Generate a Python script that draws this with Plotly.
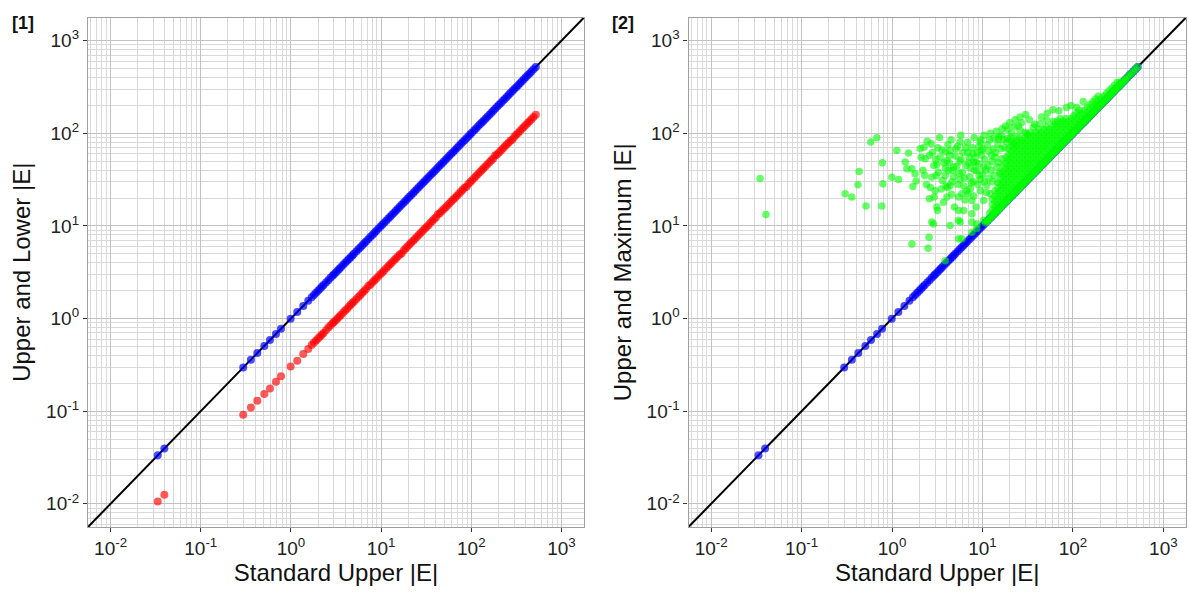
import plotly.graph_objects as go

# ---------------- data ----------------
# Standard Upper |E| (x) with Upper |E| (blue) and Lower |E| (red)
std_upper = [0.0334, 0.0395, 0.296, 0.360, 0.424, 0.507, 0.586, 0.683, 0.776, 0.993, 1.175, 1.37, 1.556, 1.70,
             1.8, 1.9, 2.0, 2.1, 2.2, 2.3, 2.45, 2.6, 2.75, 2.9, 3.0, 3.15, 3.3, 3.45, 3.6, 3.8, 4.0, 4.2, 4.4, 4.6,
             4.8, 5.0, 5.3, 5.6, 5.9, 6.2, 6.5, 6.8, 7.2, 7.6, 8.0, 8.4, 8.8, 9.3, 9.8, 10.3, 10.8, 11.4, 12.0, 12.6,
             13.2, 13.9, 14.6, 15.3, 16.1, 16.9, 17.8, 18.7, 19.6, 20.6, 21.6, 22.7, 23.8, 25.0, 26.3, 27.6, 29.0,
             30.4, 31.9, 33.5, 35.2, 37.0, 38.8, 40.7, 42.7, 44.8, 47.0, 49.4, 51.8, 54.4, 57.1, 60.0, 63.0, 66.1,
             69.4, 72.9, 76.5, 80.3, 84.3, 88.5, 93.0, 97.6, 102, 108, 113, 119, 125, 131, 137, 144, 151, 159, 167,
             175, 184, 193, 203, 213, 224, 235, 247, 259, 272, 286, 300, 315, 331, 347, 365, 383, 402, 422, 443,
             465, 490, 520]
upper = [0.0334, 0.0395, 0.296, 0.360, 0.424, 0.507, 0.586, 0.683, 0.776, 0.993, 1.175, 1.37, 1.556, 1.70,
         1.8, 1.9, 2.0, 2.1, 2.2, 2.3, 2.45, 2.6, 2.75, 2.9, 3.0, 3.15, 3.3, 3.45, 3.6, 3.8, 4.0, 4.2, 4.4, 4.6,
         4.8, 5.0, 5.3, 5.6, 5.9, 6.2, 6.5, 6.8, 7.2, 7.6, 8.0, 8.4, 8.8, 9.3, 9.8, 10.3, 10.8, 11.4, 12.0, 12.6,
         13.2, 13.9, 14.6, 15.3, 16.1, 16.9, 17.8, 18.7, 19.6, 20.6, 21.6, 22.7, 23.8, 25.0, 26.3, 27.6, 29.0,
         30.4, 31.9, 33.5, 35.2, 37.0, 38.8, 40.7, 42.7, 44.8, 47.0, 49.4, 51.8, 54.4, 57.1, 60.0, 63.0, 66.1,
         69.4, 72.9, 76.5, 80.3, 84.3, 88.5, 93.0, 97.6, 102, 108, 113, 119, 125, 131, 137, 144, 151, 159, 167,
         175, 184, 193, 203, 213, 224, 235, 247, 259, 272, 286, 300, 315, 331, 347, 365, 383, 402, 422, 443,
         465, 490, 520]
lower = [0.01057, 0.0125, 0.0917, 0.1098, 0.130, 0.153, 0.176, 0.208, 0.238, 0.303, 0.351, 0.415, 0.470, 0.519,
         0.55, 0.58, 0.61, 0.64, 0.67, 0.70, 0.75, 0.80, 0.84, 0.89, 0.92, 0.96, 1.01, 1.05, 1.10, 1.16, 1.22, 1.28,
         1.35, 1.41, 1.47, 1.53, 1.62, 1.71, 1.80, 1.90, 1.99, 2.08, 2.24, 2.32, 2.45, 2.57, 2.69, 2.84, 3.00, 3.15,
         3.30, 3.49, 3.67, 3.85, 4.04, 4.25, 4.46, 4.68, 4.92, 5.05, 5.44, 5.72, 5.99, 6.30, 6.61, 6.94, 7.28, 7.65,
         8.04, 8.44, 8.87, 9.30, 9.76, 10.2, 10.8, 11.3, 11.9, 12.4, 13.4, 13.7, 14.4, 15.1, 15.8, 16.6, 17.5, 18.3,
         19.3, 20.2, 21.2, 22.3, 23.4, 24.6, 25.8, 26.5, 28.4, 29.8, 31.2, 33.0, 34.6, 36.4, 38.2, 40.1, 41.9, 44.0,
         46.2, 48.6, 51.1, 53.5, 57.5, 59.0, 62.1, 65.1, 68.5, 71.9, 75.5, 79.2, 83.2, 85.9, 91.7, 96.3, 101, 106,
         112, 117, 123, 129, 135, 142, 150, 159]

# Maximum |E| (green): scattered points (x = Standard Upper, y = Maximum)
max_scatter_x = [0.0348, 0.0404, 0.303, 0.359, 0.420, 0.433, 0.516, 0.582, 0.679, 0.771, 0.780, 0.791, 0.995,
                 1.13, 1.18, 1.40, 1.46, 1.52, 1.66, 1.66, 1.70, 1.80, 1.85, 2.05, 2.26, 2.32, 2.50, 2.57, 2.59,
                 2.71, 2.75, 2.75, 2.87, 2.92, 3.08, 3.13, 3.13, 3.18, 3.87, 3.87, 3.87, 4.04, 4.04, 4.21, 4.39,
                 4.39, 4.39, 4.78, 5.29, 5.43, 5.43, 5.43, 5.43, 5.66, 5.66, 5.66, 5.92, 5.92, 6.2, 6.9, 7.31,
                 7.64, 7.64, 7.64, 7.64, 7.95, 8.67, 8.67, 8.67, 9.44, 9.44, 9.68, 10.3, 10.3, 10.3, 11.2, 12.2,
                 13.2, 14.4, 15.0, 16.4, 18.6, 22.0,
                 3.5, 3.9, 4.6, 5.0, 5.5, 6.2, 6.6, 6.9, 7.2, 8.0, 8.3, 8.9, 9.1, 10.0, 10.6, 11.0, 11.7, 12.4,
                 13.0, 13.8, 14.8, 15.5, 16.2, 17.5, 18.8, 21.0, 24.0, 26.0, 27.0, 29.5, 31.0, 33.0, 36.6, 38.0,
                 43.5, 45.0, 51.5, 52.0, 61.0, 60.0, 72.4, 70.0, 85.0, 95.0, 110, 130,
                 2.2, 2.4, 2.6, 2.9, 3.0, 3.2, 3.4, 3.6, 3.7, 4.1, 4.3, 4.5, 4.8, 4.9, 5.2, 5.8, 6.0, 6.4, 6.5,
                 7.0, 7.5, 7.8, 8.2, 8.5, 9.0, 9.5, 9.8, 10.5, 11.5, 12.0, 12.8, 13.5, 14.0, 15.0, 16.0, 17.0,
                 19.0, 20.5, 22.5, 25.0,
                 2.1, 2.3, 2.45, 2.65, 2.8, 3.05, 3.25, 3.35, 3.55, 3.75, 3.95, 4.15, 4.35, 4.55, 4.7, 5.1,
                 5.35, 5.6, 5.75, 6.05, 6.3, 6.7, 6.85, 7.1, 7.4, 7.7, 7.9, 8.1, 8.4, 8.8, 9.2, 9.6, 10.1,
                 10.4, 10.9, 11.3, 11.8, 12.2, 12.6, 13.3, 14.2, 15.2, 16.5, 18.0, 20.0, 23.0, 26.0, 30.0]
max_scatter_y = [32.6, 13.3, 22.3, 20.5, 27.9, 38.8, 16.4, 80.4, 89.3, 16.4, 48.2, 28.6, 33.6,
                 65.4, 31.8, 48.9, 41.5, 61.1, 41.5, 6.4, 26.7, 36.6, 30.5, 68.2, 70.5, 53.2, 5.75, 7.55, 19.7,
                 77.3, 33.6, 11.0, 10.5, 20.5, 35.1, 46.1, 16.0, 14.7, 62.7, 35.1, 4.2, 51.0, 20.5, 39.7, 65.4,
                 27.4, 10.1, 43.2, 72.0, 20.5, 11.5, 7.26, 14.7, 80.4, 31.8, 11.0, 22.3, 7.26, 14.7, 22.3, 25.2,
                 18.8, 13.5, 8.56, 11.0, 48.9, 39.7, 10.5, 9.4, 80.4, 31.8, 65.4, 43.2, 18.8, 11.5, 27.4, 22.3,
                 68.2, 43.2, 87.0, 53.2, 80.4, 77.3,
                 25, 42, 30, 57, 37, 27, 45, 62, 34, 21, 55, 28, 72, 36, 52, 23, 64, 40,
                 30, 55, 76, 38, 95, 70, 88, 100, 92, 108, 130, 102, 99, 140, 117, 125,
                 127, 150, 138, 165, 134, 180, 144, 175, 190, 200, 190, 220,
                 40, 28, 58, 45, 24, 70, 55, 31, 18, 26, 48, 85, 34, 16, 44, 52, 38, 19, 70,
                 48, 29, 60, 40, 16, 47, 24, 58, 30, 45, 85, 50, 35, 62, 48, 68, 85,
                 110, 90, 118, 120,
                 55, 35, 82, 26, 62, 52, 38, 90, 66, 48, 27, 75, 58, 22, 40, 68,
                 28, 50, 95, 62, 33, 24, 80, 55, 42, 70, 30, 90, 48, 62, 35, 85, 68,
                 95, 40, 75, 33, 100, 58, 88, 105, 92, 112, 120, 130, 140, 150, 160]

# Maximum |E| (green): dense cloud just above the diagonal, one column per Standard Upper value
cloud_x = [11.22, 12.02, 12.88, 13.80, 14.79, 15.85, 16.98, 18.20, 19.50, 20.89, 22.39, 23.99, 25.70, 27.54,
           29.51, 31.62, 33.88, 36.31, 38.90, 41.69, 44.67, 47.86, 51.29, 54.95, 58.88, 63.10, 67.61, 72.44,
           77.62, 83.18, 89.13, 95.50, 102.3, 109.6, 117.5, 125.9, 134.9, 144.5, 154.9, 166.0, 177.8, 190.5,
           204.2, 218.8, 234.4, 251.2, 269.2, 288.4, 309.0, 331.1, 354.8, 380.2]
cloud_y = [
    [11.22],
    [12.02, 13.80],
    [12.88, 14.79, 16.98, 19.50],
    [13.80, 15.85, 18.20, 20.89, 23.99],
    [14.79, 16.98, 19.50, 22.39, 25.70, 29.51],
    [15.85, 18.20, 20.89, 23.99, 27.54, 31.62, 36.31],
    [16.98, 19.50, 22.39, 25.70, 29.51, 33.88, 38.90, 44.67],
    [18.20, 20.89, 23.99, 27.54, 31.62, 36.31, 41.69, 47.86, 54.95],
    [19.50, 22.39, 25.70, 29.51, 33.88, 38.90, 44.67, 51.29, 58.88, 67.61],
    [20.89, 23.99, 27.54, 31.62, 36.31, 41.69, 47.86, 54.95, 63.10, 72.44, 83.18],
    [22.39, 25.70, 29.51, 33.88, 38.90, 44.67, 51.29, 58.88, 67.61, 77.62],
    [23.99, 27.54, 31.62, 36.31, 41.69, 47.86, 54.95, 63.10, 72.44, 83.18],
    [25.70, 29.51, 33.88, 38.90, 44.67, 51.29, 58.88, 67.61, 77.62, 89.13],
    [27.54, 31.62, 36.31, 41.69, 47.86, 54.95, 63.10, 72.44, 83.18],
    [29.51, 33.88, 38.90, 44.67, 51.29, 58.88, 67.61, 77.62, 89.13],
    [31.62, 36.31, 41.69, 47.86, 54.95, 63.10, 72.44, 83.18, 95.50],
    [33.88, 38.90, 44.67, 51.29, 58.88, 67.61, 77.62, 89.13, 102.3],
    [36.31, 41.69, 47.86, 54.95, 63.10, 72.44, 83.18, 95.50],
    [38.90, 44.67, 51.29, 58.88, 67.61, 77.62, 89.13, 102.3],
    [41.69, 47.86, 54.95, 63.10, 72.44, 83.18, 95.50, 109.6],
    [44.67, 51.29, 58.88, 67.61, 77.62, 89.13, 102.3],
    [47.86, 54.95, 63.10, 72.44, 83.18, 95.50, 109.6],
    [51.29, 58.88, 67.61, 77.62, 89.13, 102.3, 117.5],
    [54.95, 63.10, 72.44, 83.18, 95.50, 109.6],
    [58.88, 67.61, 77.62, 89.13, 102.3, 117.5],
    [63.10, 72.44, 83.18, 95.50, 109.6, 125.9],
    [67.61, 77.62, 89.13, 102.3, 117.5, 134.9],
    [72.44, 83.18, 95.50, 109.6, 125.9],
    [77.62, 89.13, 102.3, 117.5, 134.9],
    [83.18, 95.50, 109.6, 125.9, 144.5],
    [89.13, 102.3, 117.5, 134.9],
    [95.50, 109.6, 125.9, 144.5],
    [102.3, 117.5, 134.9, 154.9],
    [109.6, 125.9, 144.5, 166.0],
    [117.5, 134.9, 154.9, 177.8],
    [125.9, 144.5, 166.0],
    [134.9, 154.9, 177.8],
    [144.5, 166.0, 190.5],
    [154.9, 177.8, 204.2],
    [166.0, 190.5, 218.8],
    [177.8, 204.2, 234.4],
    [190.5, 218.8, 251.2],
    [204.2, 234.4],
    [218.8, 251.2],
    [234.4, 269.2],
    [251.2, 288.4],
    [269.2, 309.0],
    [288.4, 331.1],
    [309.0, 354.8],
    [331.1, 354.8],
    [354.8],
    [380.2],
]

# points where Maximum equals Upper start at this Standard Upper value
max_equals_upper_from = 10.8

# y = x reference line end points
identity = [0.001, 10000]

tick_vals = [0.01, 0.1, 1, 10, 100, 1000]
tick_text = ["10<sup>-2</sup>", "10<sup>-1</sup>", "10<sup>0</sup>", "10<sup>1</sup>", "10<sup>2</sup>", "10<sup>3</sup>"]
minor_vals = [m * 10.0 ** e for e in range(-3, 4) for m in range(2, 10)]

# ---------------- assemble green series ----------------
max_x = list(max_scatter_x)
max_y = list(max_scatter_y)
for cx, ys in zip(cloud_x, cloud_y):
    for yv in ys:
        max_x.append(cx)
        max_y.append(yv)
for sx, uv in zip(std_upper, upper):
    if sx >= max_equals_upper_from:
        max_x.append(sx)
        max_y.append(uv)

FONT = "Liberation Sans, Arial, Helvetica, sans-serif"
MS = 7.5

fig = go.Figure()

# panel 1
fig.add_trace(go.Scatter(x=identity, y=identity, mode="lines", line=dict(color="black", width=2),
                         xaxis="x", yaxis="y", showlegend=False, hoverinfo="skip"))
fig.add_trace(go.Scatter(x=std_upper, y=upper, mode="markers",
                         marker=dict(color="#0000ff", size=MS + 0.5, opacity=0.7, line=dict(width=0)),
                         xaxis="x", yaxis="y", showlegend=False))
fig.add_trace(go.Scatter(x=std_upper, y=lower, mode="markers",
                         marker=dict(color="#ff0000", size=MS + 0.5, opacity=0.65, line=dict(width=0)),
                         xaxis="x", yaxis="y", showlegend=False))
# panel 2
fig.add_trace(go.Scatter(x=identity, y=identity, mode="lines", line=dict(color="black", width=2),
                         xaxis="x2", yaxis="y2", showlegend=False, hoverinfo="skip"))
fig.add_trace(go.Scatter(x=std_upper, y=upper, mode="markers",
                         marker=dict(color="#0000ff", size=MS + 0.5, opacity=0.7, line=dict(width=0)),
                         xaxis="x2", yaxis="y2", showlegend=False))
fig.add_trace(go.Scatter(x=max_x, y=max_y, mode="markers",
                         marker=dict(color="#00ff00", size=MS, opacity=0.6, line=dict(width=0)),
                         xaxis="x2", yaxis="y2", showlegend=False))


def axis(domain, anchor, title, standoff):
    return dict(
        type="log", range=[-2.25, 3.25], domain=domain, anchor=anchor,
        tickmode="array", tickvals=tick_vals, ticktext=tick_text,
        showgrid=True, gridcolor="#c2c2c2", gridwidth=1,
        minor=dict(tickmode="array", tickvals=minor_vals, showgrid=True, gridcolor="#d9d9d9",
                   gridwidth=0.8, ticks=""),
        ticks="outside", ticklen=4, tickwidth=1.3, tickcolor="#333333",
        showline=True, mirror=True, linecolor="#a0a0a0", linewidth=1.3,
        zeroline=False,
        tickfont=dict(family=FONT, size=19, color="#222222"),
        title=dict(text=title, font=dict(family=FONT, size=24, color="#111111"), standoff=standoff),
    )


xd1 = [88 / 1189, 584 / 1189]
xd2 = [688.5 / 1189, 1186 / 1189]
yd = [1 - 527 / 598, 1 - 17.5 / 598]

fig.update_layout(
    width=1189, height=598,
    margin=dict(l=0, r=0, t=0, b=0),
    paper_bgcolor="white", plot_bgcolor="white",
    xaxis=axis(xd1, "y", "Standard Upper |E|", 4),
    yaxis=axis(yd, "x", "Upper and Lower |E|", 8),
    xaxis2=axis(xd2, "y2", "Standard Upper |E|", 4),
    yaxis2=axis(yd, "x2", "Upper and Maximum |E|", 8),
    annotations=[
        dict(text="<b>[1]</b>", x=10 / 1189, y=1 - 23 / 598, xref="paper", yref="paper",
             xanchor="left", yanchor="middle", showarrow=False,
             font=dict(family=FONT, size=18, color="#111111")),
        dict(text="<b>[2]</b>", x=610 / 1189, y=1 - 23 / 598, xref="paper", yref="paper",
             xanchor="left", yanchor="middle", showarrow=False,
             font=dict(family=FONT, size=18, color="#111111")),
    ],
)

fig.write_html("out.html")
